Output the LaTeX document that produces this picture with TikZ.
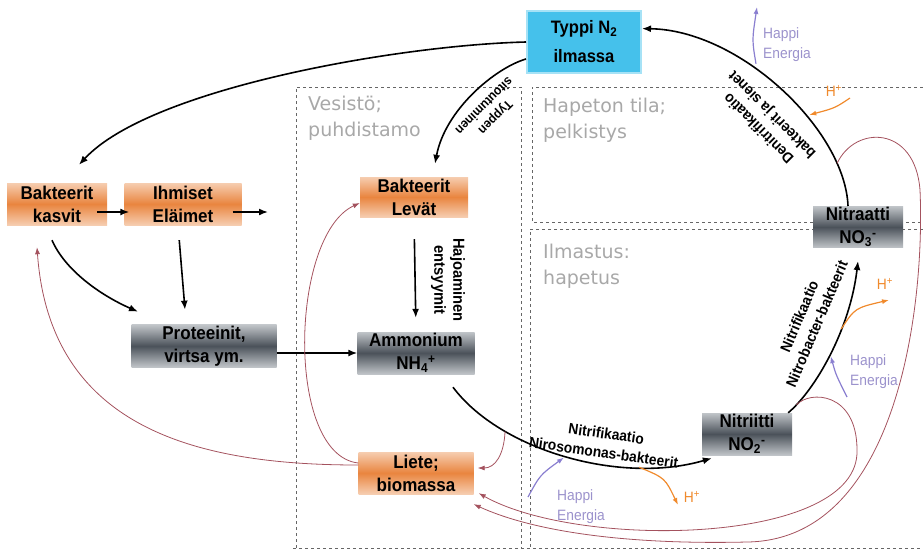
\documentclass[tikz,border=0pt]{standalone}
\usepackage{fontspec}
\setmainfont{Liberation Sans}[FakeStretch=0.92]
\newfontfamily\zonefont{DejaVu Sans}
\usetikzlibrary{arrows.meta}

\definecolor{boxorange}{HTML}{E9853F}
\definecolor{boxorangeedge}{HTML}{F6CDB0}
\definecolor{boxgray}{HTML}{4B525A}
\definecolor{boxgrayedge}{HTML}{C0C4C8}
\definecolor{aircyan}{HTML}{45C1EB}
\definecolor{aircyanedge}{HTML}{A6E2F6}
\definecolor{sludge}{HTML}{A4525E}
\definecolor{oxygen}{HTML}{8A7FD0}
\definecolor{oxygentext}{HTML}{9B92CC}
\definecolor{proton}{HTML}{F08A2C}
\definecolor{zonetext}{HTML}{A8A8A8}

\tikzset{
  box/.style={inner sep=1pt, align=center, minimum height=42pt,
    font=\bfseries\fontsize{18.5}{23}\selectfont},
  orangebox/.style={box, top color=boxorangeedge, bottom color=boxorangeedge, middle color=boxorange},
  graybox/.style={box, top color=boxgrayedge, bottom color=boxgrayedge, middle color=boxgray},
  flow/.style={-{Latex[length=9pt,width=7pt]}, line width=1.6pt},
  back/.style={-{Latex[length=7pt,width=5pt]}, draw=sludge, line width=0.8pt},
  oxy/.style={-{Latex[length=7pt,width=5pt]}, draw=oxygen, line width=1.2pt},
  hplus/.style={-{Latex[length=7pt,width=5pt]}, draw=proton, line width=1.2pt},
  flowlabel/.style={align=center, inner sep=0pt, font=\bfseries\fontsize{15}{19}\selectfont},
  oxylabel/.style={align=left, anchor=west, inner sep=0pt, text=oxygentext, font=\fontsize{15}{20}\selectfont},
  hlabel/.style={inner sep=0pt, text=proton, font=\fontsize{15}{15}\selectfont},
  zone/.style={draw=black!60, line width=0.8pt, dash pattern=on 3pt off 3pt},
  zonelabel/.style={anchor=north west, align=left, inner sep=0pt, text=zonetext,
    font=\zonefont\fontsize{19}{26}\selectfont}
}

\begin{document}
\begin{tikzpicture}[x=1pt, y=-1pt]
  \useasboundingbox (0,0) rectangle (923,550);

  % zones
  \draw[zone] (296,548) -- (296,87) -- (521,87) -- (521,548);
  \draw[zone] (923,87) -- (532,87) -- (532,222) -- (923,222);
  \draw[zone] (923,229) -- (530,229) -- (530,548);
  \draw[zone] (293,548) -- (923,548);
  \node[zonelabel] (vesisto) at (308,96) {Vesistö;\\puhdistamo};
  \node[zonelabel] (hapeton) at (543,98) {Hapeton tila;\\pelkistys};
  \node[zonelabel] (ilmastus) at (543,244) {Ilmastus:\\hapetus};

  % boxes
  \node[box, fill=aircyan, draw=aircyanedge, line width=2pt, minimum width=114pt, minimum height=62pt,
    font=\bfseries\fontsize{18}{29}\selectfont] (typpi) at (584,42) {Typpi N\textsubscript{2}\\ilmassa};
  \node[orangebox, minimum width=100pt] (bakkasvit) at (57,204) {Bakteerit\\kasvit};
  \node[orangebox, minimum width=117pt] (ihmiset) at (183,204) {Ihmiset\\Eläimet};
  \node[graybox, minimum width=145pt] (proteiinit) at (204,346) {Proteeinit,\\virtsa ym.};
  \node[orangebox, minimum width=108pt, minimum height=40pt] (levat) at (414,197) {Bakteerit\\Levät};
  \node[graybox, minimum width=117pt] (ammonium) at (416,353) {Ammonium\\NH\textsubscript{4}\textsuperscript{+}};
  \node[orangebox, minimum width=115pt] (liete) at (416,473) {Liete;\\biomassa};
  \node[graybox, minimum width=90pt] (nitriitti) at (747,434) {Nitriitti\\NO\textsubscript{2}\textsuperscript{-}};
  \node[graybox, minimum width=90pt, minimum height=40pt] (nitraatti) at (858,227) {Nitraatti\\NO\textsubscript{3}\textsuperscript{-}};

  % main flows
  \draw[flow] (typpi.west) .. controls (400,45) and (150,88) .. ([xshift=22pt,yshift=18pt]bakkasvit.north);
  \draw[flow] ([yshift=15pt]typpi.south west) .. controls (495,68) and (445,110) .. ([xshift=21pt,yshift=13pt]levat.north);
  \node[flowlabel, rotate=225, font=\bfseries\fontsize{13}{16}\selectfont] (sitoutuminen) at (490,112) {Typpen\\sitoutuminen};

  \draw[flow] ([xshift=-10pt]nitraatti.north) .. controls (845,130) and (740,30) .. (typpi.13)
    coordinate[pos=0.18] (denitA) coordinate[pos=0.38] (denitC) coordinate[pos=0.6] (denitB);
  \node[flowlabel, rotate=135] (denitlabel) at (766,121) {Denitrifikaatio\\bakteerit ja sienet};

  \draw[flow] ([xshift=-10pt,yshift=-8pt]bakkasvit.east) -- ([xshift=5pt,yshift=-8pt]ihmiset.west);
  \coordinate (ihmisetout) at (268,212);
  \draw[flow] ([xshift=-9pt,yshift=-8pt]ihmiset.east) -- (ihmisetout);
  \draw[flow, shorten <=15pt] ([xshift=-5pt]ihmiset.south) -- ([xshift=-19pt,yshift=15pt]proteiinit.north);
  \draw[flow] ([xshift=-5pt,yshift=-15pt]bakkasvit.south) .. controls (65,270) and (100,295) .. ([xshift=-66pt,yshift=13pt]proteiinit.north);
  \draw[flow] (proteiinit.east |- ammonium) -- (ammonium.west);

  \draw[flow, shorten <=22pt, shorten >=14pt] (levat.south) -- (ammonium.north);
  \node[flowlabel, rotate=-90, font=\bfseries\fontsize{16}{19}\selectfont] (hajoaminen) at (448,280) {Hajoaminen\\entsyymit};

  \draw[flow] ([shift={(37pt,-13pt)}]ammonium.south) .. controls (500,450) and (620,485) .. ([shift={(10pt,-3pt)}]nitriitti.south west)
    coordinate[pos=0.27] (nitroA) coordinate[pos=0.5] (nitroC) coordinate[pos=0.75] (nitroB);
  \node[flowlabel, rotate=-8] (nitrosolabel) at (605,443) {Nitrifikaatio\\Nirosomonas-bakteerit};

  \draw[flow] ([xshift=-4pt]nitriitti.north east) .. controls (815,390) and (850,330) .. ([yshift=-13pt]nitraatti.south)
    coordinate[pos=0.1] (nitrobA) coordinate[pos=0.5] (nitrobC) coordinate[pos=0.65] (nitrobB);
  \node[flowlabel, rotate=67] (nitroblabel) at (808,320) {Nitrifikaatio\\Nitrobacter-bakteerit};

  % return of biomass
  \draw[back] ([yshift=8pt]liete.west) .. controls (200,465) and (50,430) .. ([shift={(-20pt,-22pt)}]bakkasvit.south);
  \draw[back] ([yshift=10pt]liete.west) .. controls (285,455) and (290,235) .. ([yshift=-6pt]levat.west);
  \draw[back] (nitroA) .. controls (504,455) and (495,468) .. ([shift={(4pt,5pt)}]liete.east);
  \draw[back] (nitrobA) .. controls (810,390) and (857,392) .. (857,450)
    .. controls (860,545) and (580,550) .. ([shift={(5pt,1pt)}]liete.south east);
  \draw[back] (denitA) .. controls (855,125) and (915,125) .. (920,190)
    .. controls (925,300) and (900,540) .. (747,542)
    .. controls (620,545) and (530,530) .. ([yshift=-10pt]liete.south east);

  % oxygen and energy
  \coordinate (oxytop) at (757,7);
  \draw[oxy] ([yshift=6pt]denitB) .. controls (752,40) .. (oxytop);
  \node[oxylabel] (happiA) at (763,45) {Happi\\Energia};
  \coordinate (oxyB) at (528,497);
  \draw[oxy, shorten >=2pt] (oxyB) .. controls (540,475) .. (nitroC);
  \node[oxylabel] (happiB) at (557,507) {Happi\\Energia};
  \coordinate (oxyC) at (847,397);
  \draw[oxy, shorten >=2pt] (oxyC) .. controls (836,375) .. (nitrobC);
  \node[oxylabel] (happiC) at (850,372) {Happi\\Energia};

  % protons
  \coordinate (hA) at (850,98);
  \draw[hplus, shorten >=3pt] (hA) .. controls (835,108) .. (denitC);
  \node[hlabel] (hplusA) at (834,91) {H\textsuperscript{+}};
  \coordinate (hB) at (889,300);
  \draw[hplus] (nitrobB) .. controls (855,308) .. (hB);
  \node[hlabel] (hplusB) at (885,284) {H\textsuperscript{+}};
  \coordinate (hC) at (678,505);
  \draw[hplus] (nitroB) .. controls (665,478) .. (hC);
  \node[hlabel] (hplusC) at (692,497) {H\textsuperscript{+}};
\end{tikzpicture}
\end{document}
